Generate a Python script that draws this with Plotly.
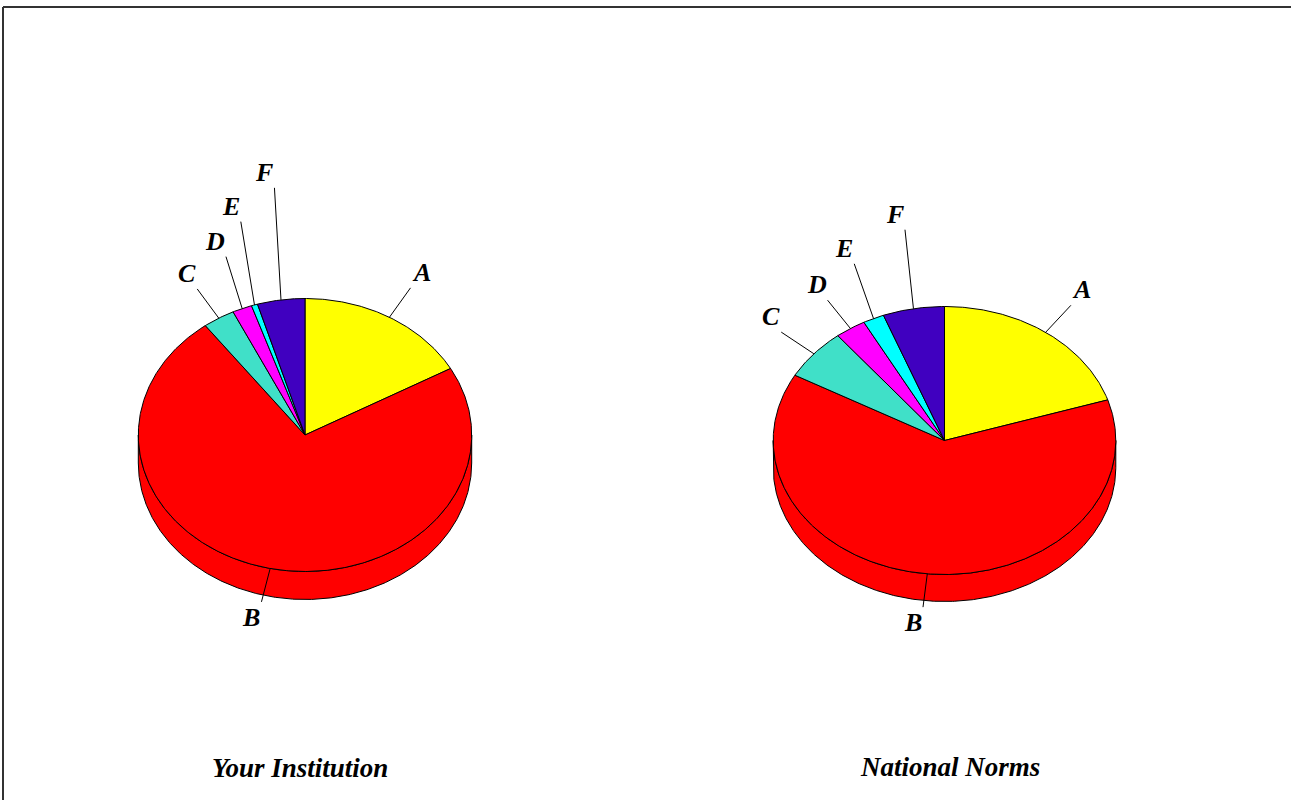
import numpy as np
import plotly.graph_objects as go

# ---------------- data ----------------
categories = ["A", "B", "C", "D", "E", "F"]
your_institution = [16.9, 72.9, 3.1, 1.9, 0.6, 4.6]
national_norms = [20.1, 63.0, 6.2, 2.9, 2.0, 5.8]
titles = ["Your Institution", "National Norms"]

# ---------------- style / layout ----------------
colors = ["#FFFF00", "#FF0000", "#40E0C8", "#FF00FF", "#00FFFF", "#4000C0"]
W, H = 1291, 800
FONT = "Liberation Serif"

pies = [
    dict(values=your_institution, cx=305.0, cy=435.0, rx=166.7, ry=136.5, depth=28.0,
         leader_k=[1.25, 1.25, 1.25, 1.39, 1.61, 1.82],
         nudge=[0, 0, 0, 2.2, 3.8, 2.5],
         title_xy=(300, 768)),
    dict(values=national_norms, cx=944.5, cy=440.5, rx=171.3, ry=134.0, depth=27.0,
         leader_k=[1.25, 1.25, 1.25, 1.25, 1.42, 1.59],
         nudge=[0, 0, 0, 0.2, 2.7, 2.1],
         title_xy=(949.5, 767)),
]

fig = go.Figure()


def pt(p, t_deg, k=1.0, dz=0.0):
    t = np.radians(t_deg)
    return p["cx"] + k * p["rx"] * np.sin(t), p["cy"] - k * p["ry"] * np.cos(t) + dz


annotations = []
for p in pies:
    vals = np.array(p["values"], dtype=float)
    ang = vals / vals.sum() * 360.0
    starts = np.concatenate([[0.0], np.cumsum(ang)[:-1]])
    ends = starts + ang

    # side walls (front half: 90..270 degrees)
    for i in range(len(vals)):
        a, b = max(starts[i], 90.0), min(ends[i], 270.0)
        if b <= a:
            continue
        ts = np.linspace(a, b, max(int((b - a) * 2), 3))
        xt, yt = pt(p, ts)
        xb, yb = pt(p, ts[::-1], dz=p["depth"])
        fig.add_trace(go.Scatter(
            x=np.concatenate([xt, xb, xt[:1]]), y=np.concatenate([yt, yb, yt[:1]]),
            mode="lines", fill="toself", fillcolor=colors[i],
            line=dict(color="black", width=1), hoverinfo="skip", showlegend=False))

    # top faces
    for i in range(len(vals)):
        ts = np.linspace(starts[i], ends[i], max(int(ang[i] * 2), 3))
        xs, ys = pt(p, ts)
        fig.add_trace(go.Scatter(
            x=np.concatenate([[p["cx"]], xs, [p["cx"]]]),
            y=np.concatenate([[p["cy"]], ys, [p["cy"]]]),
            mode="lines", fill="toself", fillcolor=colors[i],
            line=dict(color="black", width=1), name=categories[i],
            text=f"{categories[i]}: {vals[i]:.1f}%", hoverinfo="text", showlegend=False))

    # leader lines + labels
    for i in range(len(vals)):
        mid = (starts[i] + ends[i]) / 2.0
        end_ang = mid + p["nudge"][i]
        x0, y0 = pt(p, mid)
        x1, y1 = pt(p, end_ang, k=p["leader_k"][i])
        fig.add_trace(go.Scatter(x=[x0, x1], y=[y0, y1], mode="lines",
                                 line=dict(color="black", width=1),
                                 hoverinfo="skip", showlegend=False))
        s, c = np.sin(np.radians(end_ang)), np.cos(np.radians(end_ang))
        annotations.append(dict(
            x=x1, y=y1, xref="x", yref="y", text=categories[i], showarrow=False,
            xanchor="left" if s > 0 else "right",
            yanchor="bottom" if c > 0 else "top",
            borderpad=0,
            font=dict(family=FONT, size=26, color="black", weight="bold", style="italic")))

for p, t in zip(pies, titles):
    annotations.append(dict(
        x=p["title_xy"][0], y=p["title_xy"][1], xref="x", yref="y", text=t,
        showarrow=False, xanchor="center", yanchor="middle",
        font=dict(family=FONT, size=27, color="black", weight="bold", style="italic")))

frame = dict(color="#333333", width=2)
fig.update_layout(
    width=W, height=H, margin=dict(l=0, r=0, t=0, b=0),
    paper_bgcolor="white", plot_bgcolor="white",
    xaxis=dict(range=[0, W], visible=False, fixedrange=True, showline=False, zeroline=False),
    yaxis=dict(range=[H, 0], visible=False, fixedrange=True, showline=False, zeroline=False),
    annotations=annotations,
    shapes=[
        dict(type="line", xref="paper", yref="paper", x0=3 / W, y0=1 - 7 / H,
             x1=1.0, y1=1 - 7 / H, line=frame),
        dict(type="line", xref="paper", yref="paper", x0=3 / W, y0=1 - 7 / H,
             x1=3 / W, y1=0.0, line=frame),
    ],
    showlegend=False,
)

fig.write_html(
    "out.html",
    config={"displayModeBar": False},
    post_script=("document.body.style.margin='0';document.body.style.overflow='hidden';"
                 "document.documentElement.style.overflow='hidden';"),
)
